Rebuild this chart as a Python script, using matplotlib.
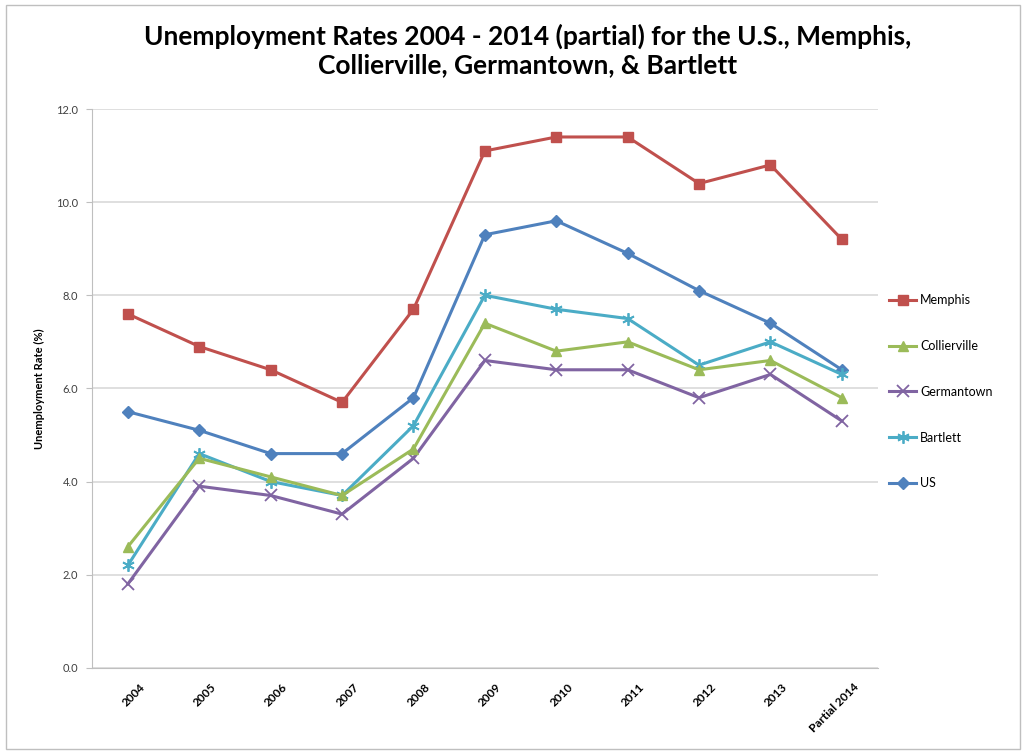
import matplotlib.pyplot as plt
import matplotlib.transforms as mtransforms
from matplotlib.patches import Rectangle

years = ["2004", "2005", "2006", "2007", "2008", "2009", "2010", "2011", "2012", "2013", "Partial 2014"]
memphis = [7.6, 6.9, 6.4, 5.7, 7.7, 11.1, 11.4, 11.4, 10.4, 10.8, 9.2]
collierville = [2.6, 4.5, 4.1, 3.7, 4.7, 7.4, 6.8, 7.0, 6.4, 6.6, 5.8]
germantown = [1.8, 3.9, 3.7, 3.3, 4.5, 6.6, 6.4, 6.4, 5.8, 6.3, 5.3]
bartlett = [2.2, 4.6, 4.0, 3.7, 5.2, 8.0, 7.7, 7.5, 6.5, 7.0, 6.3]
us = [5.5, 5.1, 4.6, 4.6, 5.8, 9.3, 9.6, 8.9, 8.1, 7.4, 6.4]

plt.rcParams['font.family'] = ['Lato', 'DejaVu Sans']

fig = plt.figure(figsize=(10.24, 7.52), dpi=100)
ax = fig.add_axes([0.09, 0.112, 0.767, 0.743])
x = range(len(years))

ax.plot(x, us, color="#4F81BD", marker="D", ms=6, lw=2.2, label="US", zorder=3)
ax.plot(x, bartlett, color="#4BACC6", marker=(6, 2, 0), ms=9, mew=1.3, lw=2.2, label="Bartlett", zorder=3)
ax.plot(x, germantown, color="#8064A2", marker="x", ms=8, mew=1.3, lw=2.2, label="Germantown", zorder=3)
ax.plot(x, collierville, color="#9BBB59", marker="^", ms=7, lw=2.2, label="Collierville", zorder=3)
ax.plot(x, memphis, color="#C0504D", marker="s", ms=7, lw=2.2, label="Memphis", zorder=3)

ax.set_xlim(-0.5, len(years) - 0.5)
ax.set_ylim(0, 12)
ax.set_yticks([0, 2, 4, 6, 8, 10, 12])
ax.set_yticklabels(["%.1f" % v for v in [0, 2, 4, 6, 8, 10, 12]], fontsize=8, color="#404040")
ax.set_xticks(list(x))
ax.set_xticklabels(years, rotation=45, ha="right", rotation_mode="anchor", fontsize=8.5, fontweight="bold")
ax.tick_params(axis="x", length=0, pad=10)
offset = mtransforms.ScaledTranslation(0.11, 0, fig.dpi_scale_trans)
for lab in ax.get_xticklabels():
    lab.set_transform(lab.get_transform() + offset)
ax.tick_params(axis="y", length=4, color="#BFBFBF", pad=6)
ax.yaxis.grid(True, color="#D9D9D9", lw=1.2)
ax.set_axisbelow(True)
for s in ["top", "right"]:
    ax.spines[s].set_visible(False)
ax.spines["left"].set_color("#BFBFBF")
ax.spines["bottom"].set_color("#BFBFBF")
ax.set_ylabel("Unemployment Rate (%)", fontsize=8, fontweight="bold", labelpad=8)

handles, labels = ax.get_legend_handles_labels()
order = [4, 3, 2, 1, 0]
ax.legend([handles[i] for i in order], [labels[i] for i in order], loc="center left",
          bbox_to_anchor=(1.0, 0.494), frameon=False, fontsize=9, labelspacing=2.7,
          handlelength=2.2, handletextpad=0.3)

fig.text(0.515, 0.968, "Unemployment Rates 2004 - 2014 (partial) for the U.S., Memphis,\nCollierville, Germantown, & Bartlett",
         ha="center", va="top", fontsize=19, fontweight="bold", linespacing=1.2)

fig.patches.append(Rectangle((0.006, 0.004), 0.99, 0.99, transform=fig.transFigure,
                             fill=False, edgecolor="#BFBFBF", lw=1))

plt.savefig("out.png")
